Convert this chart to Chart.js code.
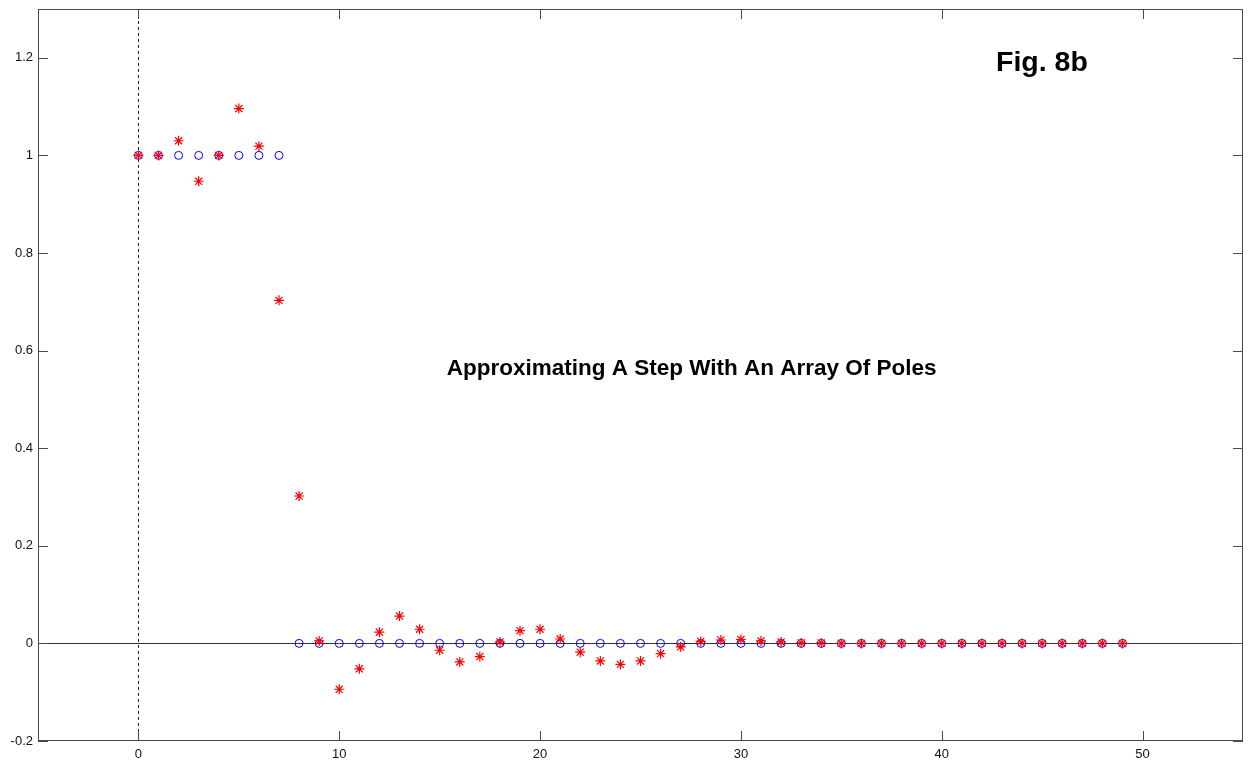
<!DOCTYPE html>
<html>
<head>
<meta charset="utf-8">
<script src="https://cdn.jsdelivr.net/npm/chart.js@4"></script>
<style>
  body { margin: 0; background: #fff; }
  #wrap { width: 1254px; height: 764px; }
</style>
</head>
<body>
<div id="wrap"><canvas id="fig" width="1254" height="764"></canvas></div>
<script>
// sample index n = 0..49
const samples = Array.from({ length: 50 }, (_, i) => i);

// target step (blue circles)
const stepVals = [1, 1, 1, 1, 1, 1, 1, 1,
  0, 0, 0, 0, 0, 0, 0, 0, 0, 0, 0, 0, 0, 0, 0, 0, 0, 0, 0, 0, 0, 0,
  0, 0, 0, 0, 0, 0, 0, 0, 0, 0, 0, 0, 0, 0, 0, 0, 0, 0, 0, 0];

// pole-array approximation (red stars)
const approxVals = [1.0, 1.0, 1.03, 0.947, 1.0, 1.096, 1.019, 0.703, 0.302, 0.005,
  -0.094, -0.052, 0.023, 0.056, 0.029, -0.014, -0.038, -0.027, 0.003, 0.026,
  0.029, 0.009, -0.018, -0.036, -0.043, -0.036, -0.021, -0.007, 0.004, 0.007,
  0.008, 0.005, 0.003, 0.001, 0.001, 0, 0, 0, 0, 0,
  0, 0, 0, 0, 0, 0, 0, 0, 0, 0];

const xTicks = [0, 10, 20, 30, 40, 50];
const yTicks = [-0.2, 0, 0.2, 0.4, 0.6, 0.8, 1, 1.2];
const yTickLabels = ["-0.2", "0", "0.2", "0.4", "0.6", "0.8", "1", "1.2"];

const AXIS_COL = "#4a4a4a";
const TICK_LEN = 10;

// MATLAB-ish box, inward ticks, zero line, dashed x=0 and text notes
const figDecor = {
  id: "figDecor",
  beforeDatasetsDraw(chart) {
    const { ctx, chartArea: a, scales: { x, y } } = chart;
    ctx.save();
    // zero line
    ctx.strokeStyle = "#333";
    ctx.lineWidth = 1;
    const y0 = Math.round(y.getPixelForValue(0)) + 0.5;
    ctx.beginPath(); ctx.moveTo(a.left, y0); ctx.lineTo(a.right, y0); ctx.stroke();
    // dashed vertical at n=0
    const x0 = Math.round(x.getPixelForValue(0)) + 0.5;
    ctx.setLineDash([3, 3]);
    ctx.strokeStyle = "#222";
    ctx.beginPath(); ctx.moveTo(x0, a.top); ctx.lineTo(x0, a.bottom); ctx.stroke();
    ctx.restore();
  },
  afterDatasetsDraw(chart) {
    const { ctx, chartArea: a, scales: { x, y } } = chart;
    ctx.save();
    ctx.strokeStyle = AXIS_COL;
    ctx.lineWidth = 1;
    ctx.strokeRect(a.left + 0.5, a.top + 0.5, a.right - a.left - 1, a.bottom - a.top - 1);
    ctx.beginPath();
    xTicks.forEach(v => {
      const px = Math.round(x.getPixelForValue(v)) + 0.5;
      ctx.moveTo(px, a.bottom); ctx.lineTo(px, a.bottom - TICK_LEN);
      ctx.moveTo(px, a.top); ctx.lineTo(px, a.top + TICK_LEN);
    });
    yTicks.forEach(v => {
      const py = Math.round(y.getPixelForValue(v)) + 0.5;
      ctx.moveTo(a.left, py); ctx.lineTo(a.left + TICK_LEN, py);
      ctx.moveTo(a.right, py); ctx.lineTo(a.right - TICK_LEN, py);
    });
    ctx.stroke();

    // notes
    ctx.fillStyle = "#000";
    ctx.textBaseline = "middle";
    ctx.font = "bold 28.5px 'Liberation Sans', Arial, sans-serif";
    ctx.textAlign = "left";
    ctx.fillText("Fig. 8b", x.getPixelForValue(42.7), y.getPixelForValue(1.19));
    ctx.font = "bold 22.5px 'Liberation Sans', Arial, sans-serif";
    ctx.textAlign = "center";
    ctx.fillText("Approximating A Step With An Array Of Poles",
      x.getPixelForValue(27.55), y.getPixelForValue(0.562));
    ctx.restore();
  }
};

const toPts = vals => vals.map((v, i) => ({ x: samples[i], y: v }));

new Chart(document.getElementById("fig").getContext("2d"), {
  type: "scatter",
  data: {
    datasets: [{
      label: "approx",
      data: toPts(approxVals),
      pointStyle: "star",
      pointRadius: 5,
      borderColor: "#ff0000",
      backgroundColor: "#ff0000",
      pointBorderWidth: 1.2,
      order: 0
    }, {
      label: "step",
      data: toPts(stepVals),
      pointStyle: "circle",
      pointRadius: 4,
      borderColor: "#0000ff",
      backgroundColor: "rgba(0,0,0,0)",
      pointBorderWidth: 1,
      order: 1
    }]
  },
  options: {
    responsive: false,
    animation: false,
    events: [],
    layout: { padding: { left: 0, right: 11, top: 9, bottom: 0 } },
    plugins: { legend: { display: false }, tooltip: { enabled: false } },
    scales: {
      x: {
        type: "linear",
        min: -5, max: 55,
        afterBuildTicks: s => { s.ticks = xTicks.map(v => ({ value: v })); },
        afterFit: s => { s.height = 23; s.paddingLeft = 0; s.paddingRight = 0; },
        grid: { display: false, drawTicks: false },
        border: { display: false },
        ticks: { padding: 6, color: "#111", font: { family: "'Liberation Sans', Arial", size: 13 } }
      },
      y: {
        type: "linear",
        min: -0.2, max: 1.3,
        afterBuildTicks: s => { s.ticks = yTicks.map(v => ({ value: v })); },
        afterFit: s => { s.width = 38; s.paddingTop = 0; s.paddingBottom = 0; },
        grid: { display: false, drawTicks: false },
        border: { display: false },
        ticks: {
          padding: 5, color: "#111",
          font: { family: "'Liberation Sans', Arial", size: 13 },
          callback: (v, i) => yTickLabels[yTicks.indexOf(v)] ?? ""
        }
      }
    }
  },
  plugins: [figDecor]
});
</script>
</body>
</html>
